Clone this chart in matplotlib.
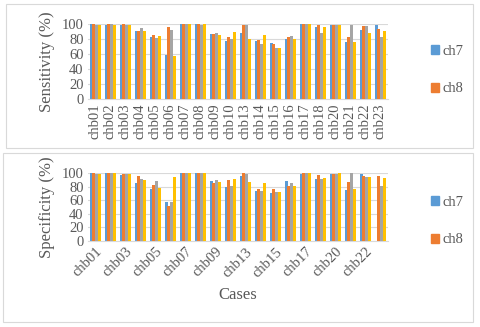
import numpy as np
import matplotlib
matplotlib.use("Agg")
from matplotlib import pyplot as plt
from matplotlib.patches import Rectangle, Patch

cases = ["chb01", "chb02", "chb03", "chb04", "chb05", "chb06", "chb07", "chb08",
         "chb09", "chb10", "chb13", "chb14", "chb15", "chb16", "chb17", "chb18",
         "chb20", "chb21", "chb22", "chb23"]

# sensitivity (%) per series
sens_ch7 = [100, 99, 99, 91, 83, 58, 100, 100, 86, 77, 88, 77, 74, 80, 100, 96.5, 98, 76, 92, 98]
sens_ch8 = [100, 100, 100, 91, 85, 96, 100, 100, 86, 83, 99, 79, 73, 83, 100, 99, 99, 83, 97, 93]
sens_s3 = [99, 100, 99, 94, 81, 92, 100, 99, 88, 80, 98, 73, 68, 84, 100, 88.5, 98, 99, 97, 82]
sens_s4 = [99, 99, 99, 91, 84, 57, 100, 100, 85.5, 89, 80, 85, 68, 80, 100, 95.5, 99, 76, 88, 91]

# specificity (%) per series
spec_ch7 = [100, 100, 97.5, 86, 77, 58, 100, 100, 88, 80, 95.5, 74, 70, 88, 98.5, 91, 99, 74.5, 98.5, 0.5]
spec_ch8 = [100, 100, 99, 95.5, 82, 51.5, 100, 99.5, 85, 90, 100, 76, 76.5, 81.5, 100, 97.5, 99, 87, 95, 95]
spec_s3 = [99, 100, 99, 91.5, 88, 58, 100, 100, 89, 80.5, 98.5, 74, 72, 85, 100, 91, 98.5, 99.5, 93.5, 81.5]
spec_s4 = [99, 100, 98, 89, 77.5, 94, 100, 100, 87, 91, 87, 86, 72, 81.5, 100, 93, 100, 76.5, 94, 92]

colors = ["#5B9BD5", "#ED7D31", "#A5A5A5", "#FFC000"]
txt = "#595959"
plt.rcParams["font.family"] = ["Liberation Serif", "DejaVu Serif"]

fig = plt.figure(figsize=(4.8, 3.27), dpi=100)

# panel frames
fig.add_artist(Rectangle((0.0125, 0.547), 0.973, 0.44, transform=fig.transFigure,
                         fill=False, edgecolor="#D9D9D9", linewidth=0.8))
fig.add_artist(Rectangle((0.006, 0.015), 0.979, 0.517, transform=fig.transFigure,
                         fill=False, edgecolor="#D9D9D9", linewidth=0.8))


def draw_panel(ax, data, ylabel):
    x = np.arange(len(cases))
    w = 0.2
    step = 0.18
    for i, vals in enumerate(data):
        ax.bar(x + (i - 1.5) * step, vals, width=w, color=colors[i], zorder=2 + i)
    ax.set_ylim(0, 100)
    ax.set_xlim(-0.5, len(cases) - 0.5)
    ax.set_yticks(range(0, 101, 20))
    ax.yaxis.grid(True, color="#D9D9D9", linewidth=0.8, zorder=0)
    ax.set_axisbelow(True)
    for s in ["top", "right", "left"]:
        ax.spines[s].set_visible(False)
    ax.spines["bottom"].set_color("#D9D9D9")
    ax.tick_params(axis="both", length=0, labelsize=10.5, colors=txt, pad=3)
    ax.set_ylabel(ylabel, fontsize=12, color=txt, labelpad=5)


ax1 = fig.add_axes([0.183, 0.697, 0.625, 0.23])
draw_panel(ax1, [sens_ch7, sens_ch8, sens_s3, sens_s4], "Sensitivity (%)")
ax1.set_xticks(np.arange(len(cases)))
ax1.set_xticklabels(cases, rotation=90)

ax2 = fig.add_axes([0.183, 0.263, 0.625, 0.208])
draw_panel(ax2, [spec_ch7, spec_ch8, spec_s3, spec_s4], "Specificity (%)")
ax2.set_xticks(np.arange(0, len(cases), 2))
ax2.set_xticklabels(cases[::2], rotation=45, ha="right", rotation_mode="anchor")
ax2.set_xlabel("Cases", fontsize=12, color=txt, labelpad=5)

handles = [Patch(color=colors[0]), Patch(color=colors[1])]
for y in [0.786, 0.324]:
    fig.legend(handles, ["ch7", "ch8"], loc="center left", bbox_to_anchor=(0.87, y),
               frameon=False, fontsize=10.5, labelspacing=1.7, handlelength=0.6,
               handleheight=0.6, handletextpad=0.2, labelcolor=txt)

fig.savefig("out.png", dpi=100)
